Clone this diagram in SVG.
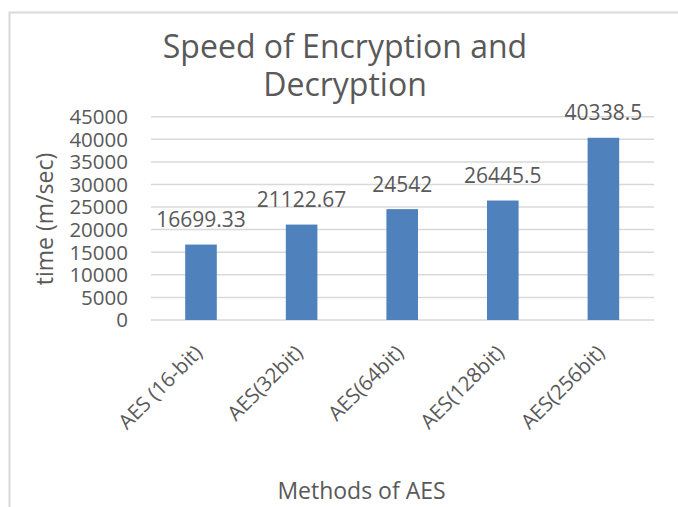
<svg xmlns="http://www.w3.org/2000/svg" width="678" height="507" viewBox="0 0 678 507">
<style>
text{font-family:"Open Sans","Liberation Sans",sans-serif;fill:#595959}
.grid{stroke:#d9d9d9;stroke-width:1.5;fill:none}
.bar{fill:#4f81bd}
.tick{font-size:20.5px;text-anchor:end}
.val{font-size:21px;text-anchor:middle}
.cat{font-size:20.5px;text-anchor:end}
.title{font-size:32px;text-anchor:middle}
.axt{font-size:23px;text-anchor:middle}
</style>
<rect width="678" height="507" fill="#ffffff"/>
<path d="M9.5 507V12.5H678" stroke="#d9d9d9" stroke-width="2" fill="none"/>
<g id="title">
<text class="title" x="345" y="58">Speed of Encryption and</text>
<text class="title" x="345" y="96">Decryption</text>
</g>
<g id="gridlines">
<line class="grid" x1="151" y1="116.7" x2="654" y2="116.7"/>
<line class="grid" x1="151" y1="139.3" x2="654" y2="139.3"/>
<line class="grid" x1="151" y1="161.9" x2="654" y2="161.9"/>
<line class="grid" x1="151" y1="184.5" x2="654" y2="184.5"/>
<line class="grid" x1="151" y1="207.1" x2="654" y2="207.1"/>
<line class="grid" x1="151" y1="229.6" x2="654" y2="229.6"/>
<line class="grid" x1="151" y1="252.2" x2="654" y2="252.2"/>
<line class="grid" x1="151" y1="274.8" x2="654" y2="274.8"/>
<line class="grid" x1="151" y1="297.4" x2="654" y2="297.4"/>
<line class="grid" x1="151" y1="320" x2="654" y2="320"/>
</g>
<g id="y-axis">
<text class="tick" x="128" y="124">45000</text>
<text class="tick" x="128" y="146.6">40000</text>
<text class="tick" x="128" y="169.2">35000</text>
<text class="tick" x="128" y="191.8">30000</text>
<text class="tick" x="128" y="214.4">25000</text>
<text class="tick" x="128" y="236.9">20000</text>
<text class="tick" x="128" y="259.5">15000</text>
<text class="tick" x="128" y="282.1">10000</text>
<text class="tick" x="128" y="304.7">5000</text>
<text class="tick" x="128" y="327.3">0</text>
<text class="axt" x="53" y="219" transform="rotate(-90 53 219)">time (m/sec)</text>
</g>
<g id="bar1">
<rect class="bar" x="185.2" y="244.56" width="31.6" height="75.44"/>
<text class="val" x="201" y="227.1">16699.33</text>
<text class="cat" x="203.5" y="354" transform="rotate(-45 203.5 354)">AES (16-bit)</text>
</g>
<g id="bar2">
<rect class="bar" x="285.8" y="224.58" width="31.6" height="95.42"/>
<text class="val" x="301.6" y="207.1">21122.67</text>
<text class="cat" x="304.1" y="354" transform="rotate(-45 304.1 354)">AES(32bit)</text>
</g>
<g id="bar3">
<rect class="bar" x="386.4" y="209.13" width="31.6" height="110.87"/>
<text class="val" x="402.2" y="191.6">24542</text>
<text class="cat" x="404.7" y="354" transform="rotate(-45 404.7 354)">AES(64bit)</text>
</g>
<g id="bar4">
<rect class="bar" x="487" y="200.53" width="31.6" height="119.47"/>
<text class="val" x="502.8" y="183">26445.5</text>
<text class="cat" x="505.3" y="354" transform="rotate(-45 505.3 354)">AES(128bit)</text>
</g>
<g id="bar5">
<rect class="bar" x="587.6" y="137.77" width="31.6" height="182.23"/>
<text class="val" x="603.4" y="120.3">40338.5</text>
<text class="cat" x="605.9" y="354" transform="rotate(-45 605.9 354)">AES(256bit)</text>
</g>
<g id="x-axis">
<text class="axt" x="361.5" y="499">Methods of AES</text>
</g>
</svg>
